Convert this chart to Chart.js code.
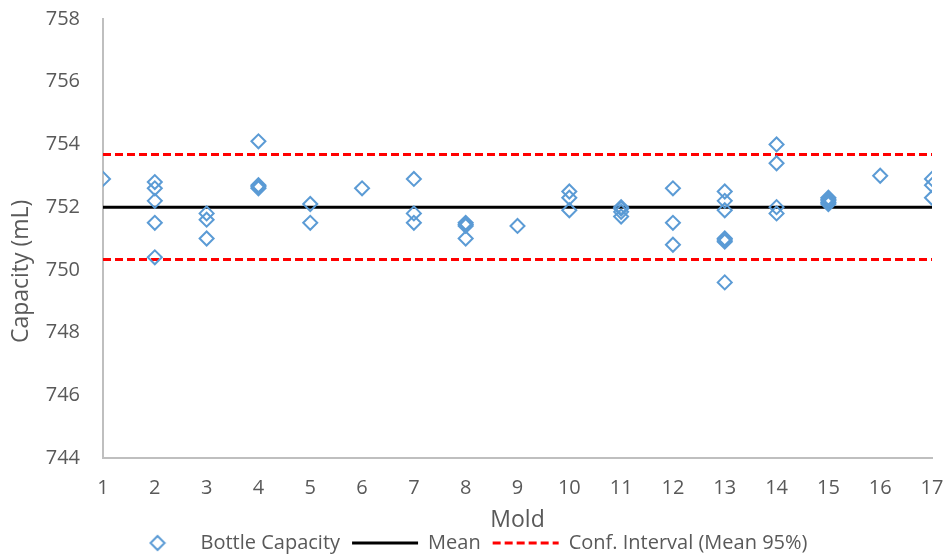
<!DOCTYPE html>
<html>
<head>
<meta charset="utf-8">
<script src="https://cdn.jsdelivr.net/npm/chart.js@4/dist/chart.umd.min.js"></script>
<style>
  html, body { margin: 0; padding: 0; background: #ffffff; }
  #wrap { width: 947px; height: 558px; position: relative; }
</style>
</head>
<body>
<div id="wrap"><canvas id="chart" width="947" height="558"></canvas></div>
<script>
// Bottle capacity measurements, one entry per bottle: mold number and capacity (mL)
const moldIds = [
  1,
  2, 2, 2, 2, 2,
  3, 3, 3,
  4, 4, 4, 4,
  5, 5,
  6,
  7, 7, 7,
  8, 8, 8, 8,
  9,
  10, 10, 10,
  11, 11, 11, 11,
  12, 12, 12,
  13, 13, 13, 13, 13, 13, 13,
  14, 14, 14, 14,
  15, 15, 15, 15, 15,
  16,
  17, 17, 17
];
const capacities = [
  752.9,
  752.8, 752.6, 752.2, 751.5, 750.4,
  751.8, 751.6, 751.0,
  754.1, 752.7, 752.65, 752.6,
  752.1, 751.5,
  752.6,
  752.9, 751.8, 751.5,
  751.5, 751.45, 751.4, 751.0,
  751.4,
  752.5, 752.3, 751.9,
  752.0, 751.95, 751.85, 751.7,
  752.6, 751.5, 750.8,
  752.5, 752.2, 751.9, 751.0, 750.95, 750.9, 749.6,
  754.0, 753.4, 752.0, 751.8,
  752.3, 752.25, 752.2, 752.15, 752.1,
  753.0,
  752.9, 752.7, 752.3
];

// Overall mean and 95% confidence interval bounds (mL)
const meanCapacity = 752.0;
const ciUpper = 753.68;
const ciLower = 750.33;

// Axis ranges / tick steps
const moldRange = [1, 17];
const capacityRange = [744, 758];
const capacityStep = 2;

const textColor = '#595959';
const axisColor = '#BFBFBF';
const fontFamily = '"Open Sans", "Noto Sans", sans-serif';

const capacityPoints = moldIds.map((m, i) => ({ x: m, y: capacities[i] }));
const spanLine = (v) => [{ x: moldRange[0], y: v }, { x: moldRange[1], y: v }];

// Fixed axis size; edge tick labels may overhang the plot area
const fixedAxis = (size) => (scale) => {
  if (scale.isHorizontal()) scale.height = size; else scale.width = size;
  scale.paddingTop = 0;
  scale.paddingBottom = 0;
  scale.paddingLeft = 0;
  scale.paddingRight = 0;
};

// Hollow diamond used as the legend symbol for the measurements
const diamondIcon = document.createElement('canvas');
diamondIcon.width = 18;
diamondIcon.height = 18;
(function () {
  const c = diamondIcon.getContext('2d');
  c.strokeStyle = '#5B9BD5';
  c.lineWidth = 2;
  c.beginPath();
  c.moveTo(9, 2);
  c.lineTo(16, 9);
  c.lineTo(9, 16);
  c.lineTo(2, 9);
  c.closePath();
  c.stroke();
})();

new Chart(document.getElementById('chart'), {
  type: 'scatter',
  data: {
    datasets: [
      {
        label: 'Bottle Capacity',
        data: capacityPoints,
        pointStyle: 'rectRot',
        pointRadius: 7,
        pointHoverRadius: 7,
        pointBorderWidth: 2,
        borderColor: '#5B9BD5',
        backgroundColor: 'rgba(0,0,0,0)',
        showLine: false
      },
      {
        label: 'Mean',
        type: 'line',
        data: spanLine(meanCapacity),
        borderColor: '#000000',
        borderWidth: 3,
        pointRadius: 0,
        fill: false
      },
      {
        label: 'Conf. Interval (Mean 95%)',
        type: 'line',
        data: spanLine(ciUpper),
        borderColor: '#FF0000',
        borderWidth: 3,
        borderDash: [8, 4],
        pointRadius: 0,
        fill: false
      },
      {
        label: 'Conf. Interval lower',
        type: 'line',
        data: spanLine(ciLower),
        borderColor: '#FF0000',
        borderWidth: 3,
        borderDash: [8, 4],
        pointRadius: 0,
        fill: false
      }
    ]
  },
  options: {
    responsive: false,
    animation: false,
    layout: { autoPadding: false, padding: { left: 0, right: 15, top: 19, bottom: -5 } },
    scales: {
      x: {
        type: 'linear',
        min: moldRange[0],
        max: moldRange[1],
        grid: { display: false, drawTicks: false },
        border: { display: true, color: axisColor, width: 2 },
        ticks: {
          stepSize: 1,
          padding: 18,
          color: textColor,
          font: { family: fontFamily, size: 20 }
        },
        title: {
          display: true,
          text: 'Mold',
          color: textColor,
          font: { family: fontFamily, size: 23 },
          padding: { top: 0, bottom: -13 }
        },
        afterFit: fixedAxis(63)
      },
      y: {
        min: capacityRange[0],
        max: capacityRange[1],
        grid: { display: false, drawTicks: false },
        border: { display: true, color: axisColor, width: 2 },
        ticks: {
          stepSize: capacityStep,
          padding: 23,
          color: textColor,
          font: { family: fontFamily, size: 20 }
        },
        title: {
          display: true,
          text: 'Capacity (mL)           ',
          color: textColor,
          font: { family: fontFamily, size: 23 },
          padding: { top: 8, bottom: 0 }
        },
        afterFit: fixedAxis(103)
      }
    },
    plugins: {
      tooltip: { enabled: false },
      legend: {
        position: 'bottom',
        labels: {
          usePointStyle: true,
          pointStyleWidth: 66,
          padding: 12,
          color: textColor,
          font: { family: fontFamily, size: 20 },
          filter: (item) => item.datasetIndex < 3,
          generateLabels: (chart) => {
            const items = Chart.defaults.plugins.legend.labels.generateLabels(chart);
            items.forEach((item) => {
              const ds = chart.data.datasets[item.datasetIndex];
              if (item.datasetIndex === 0) {
                item.pointStyle = diamondIcon;
              } else {
                item.pointStyle = 'line';
                item.strokeStyle = ds.borderColor;
                item.lineWidth = ds.borderWidth;
                item.lineDash = ds.borderDash || [];
              }
            });
            return items;
          }
        }
      }
    }
  }
});
</script>
</body>
</html>
